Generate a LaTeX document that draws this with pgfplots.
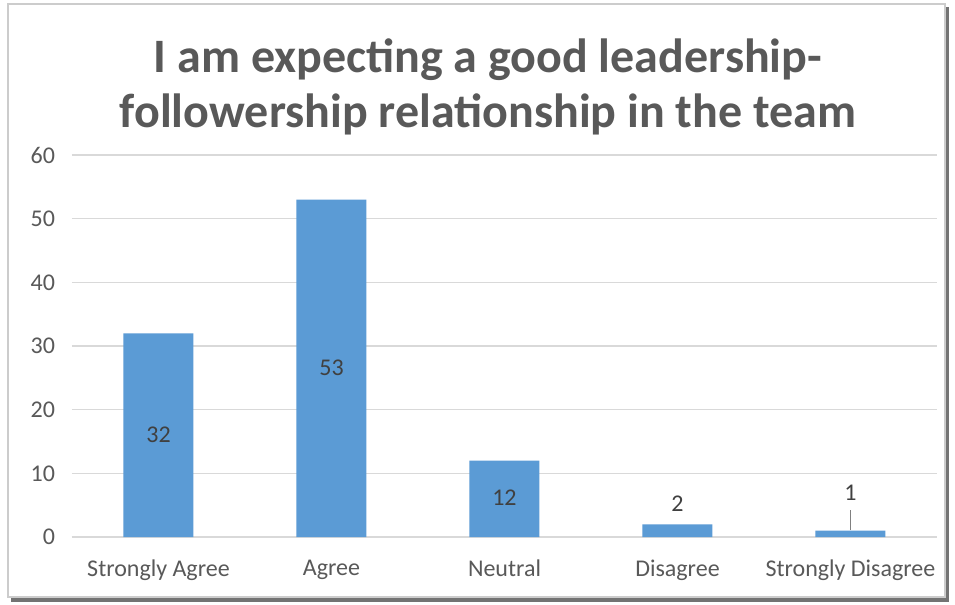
\documentclass[border=0pt]{standalone}
\usepackage{fontspec}
\setmainfont{Carlito}
\usepackage{pgfplots}
\pgfplotsset{compat=1.18}
\definecolor{barblue}{HTML}{5B9BD5}
\definecolor{txtgray}{HTML}{595959}
\definecolor{lblgray}{HTML}{404040}
\definecolor{gridgray}{HTML}{D9D9D9}
\begin{document}
\begin{tikzpicture}
\begin{scope}[x=0.5pt,y=-0.5pt]
\useasboundingbox (0,0) rectangle (955,605);
\fill[black!55] (11,7) rectangle (949,602);
\fill[white] (8,4) rectangle (945,597);
\draw[black!20, line width=0.8pt] (8,4) rectangle (945,597);
\node[align=center, text=txtgray, font=\fontsize{24}{27.5}\selectfont\bfseries] at (488,87)
  {I am expecting a good leadership-\\followership relationship in the team};
\end{scope}
\begin{axis}[
  at={(36pt,-268.5pt)}, anchor=south west,
  scale only axis, width=432.5pt, height=191pt,
  xmin=-0.5, xmax=4.5, ymin=0, ymax=60,
  ytick={0,10,...,60},
  xtick={0,1,2,3,4},
  xticklabels={Strongly Agree,Agree,Neutral,Disagree,Strongly Disagree},
  axis y line*=left,
  y axis line style={draw=none},
  axis x line*=bottom,
  x axis line style={gridgray, line width=0.8pt, -},
  ymajorgrids, grid style={gridgray, line width=0.8pt},
  major tick length=0pt,
  tick label style={text=txtgray, font=\fontsize{12}{14}\selectfont},
  xticklabel style={yshift=-8pt},
  yticklabel style={xshift=-5pt},
  /pgf/number format/assume math mode=true,
  clip=false,
]
\addplot[ybar, bar width=35pt, fill=barblue, draw=none] coordinates {(0,32) (1,53) (2,12) (3,2) (4,1)};
\addplot[gray, line width=0.6pt] coordinates {(4,1.1) (4,4.2)};
\addplot[draw=none, mark=none, nodes near coords, point meta=explicit symbolic,
  every node near coord/.append style={anchor=center, text=lblgray, font=\fontsize{12}{14}\selectfont}]
  table[meta=label] {
x y label
0 16 32
1 26.5 53
2 6.1 12
3 5.2 2
4 6.9 1
};
\end{axis}
\end{tikzpicture}
\end{document}
